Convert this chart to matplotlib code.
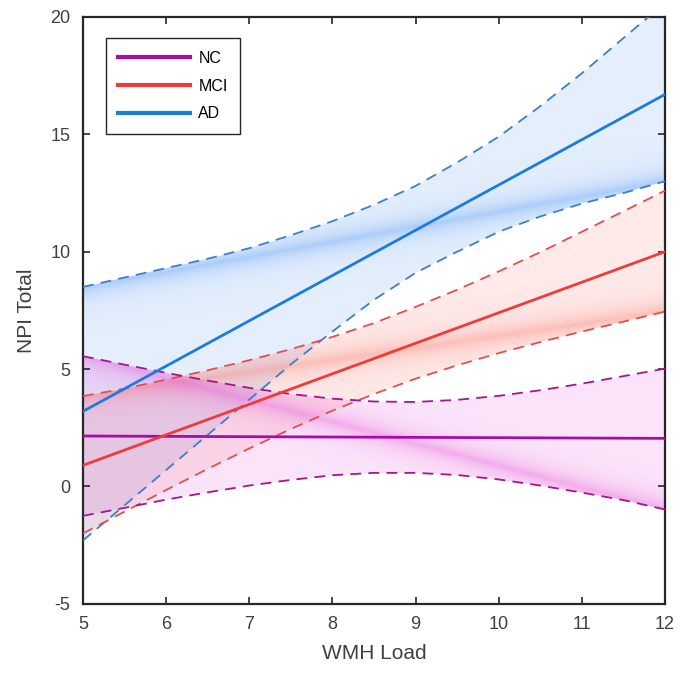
#!/usr/bin/env python
# -*- coding: utf-8 -*-

# NPI total vs WMH load, linear fit with 95% bounds per group

#-----------------------------------------------------------------------------------------
#                                        MODULES
#-----------------------------------------------------------------------------------------
import numpy as np
from matplotlib import pyplot as plt
from matplotlib.patches import Polygon

plt.rcParams['font.family'] = ['Liberation Sans', 'DejaVu Sans']
plt.rcParams['axes.unicode_minus'] = False

#-----------------------------------------------------------------------------------------
#                                          DATA
#-----------------------------------------------------------------------------------------
groups = ['NC', 'MCI', 'AD']

wmh = [5.0, 5.5, 6.0, 6.5, 7.0, 7.5, 8.0, 8.5, 9.0, 9.5, 10.0, 10.5, 11.0, 11.5, 12.0]

# fitted line end points (x = 5 and x = 12)
fit_ends = [5.0, 12.0]
nc_fit = [2.15, 2.05]
mci_fit = [0.9, 10.0]
ad_fit = [3.2, 16.7]

# dashed confidence bounds
nc_upper = [5.55, 5.19, 4.84, 4.51, 4.20, 3.94, 3.74, 3.62, 3.60, 3.69, 3.86, 4.10, 4.38, 4.70, 5.02]
nc_lower = [-1.25, -0.91, -0.56, -0.25, 0.04, 0.28, 0.48, 0.58, 0.58, 0.49, 0.30, 0.04, -0.26, -0.58, -0.98]
mci_upper = [3.85, 4.17, 4.55, 4.95, 5.38, 5.85, 6.37, 6.96, 7.65, 8.38, 9.16, 9.98, 10.85, 11.72, 12.6]
mci_lower = [-2.0, -1.07, -0.15, 0.75, 1.62, 2.45, 3.23, 3.94, 4.59, 5.16, 5.68, 6.15, 6.6, 7.02, 7.45]
ad_upper = [8.5, 8.9, 9.3, 9.7, 10.15, 10.7, 11.3, 12.0, 12.8, 13.8, 14.9, 16.2, 17.6, 19.1, 20.6]
ad_lower = [-2.3, -0.8, 0.7, 2.2, 3.7, 5.2, 6.6, 7.95, 9.1, 10.0, 10.85, 11.5, 12.05, 12.5, 13.0]

xticks = [5, 6, 7, 8, 9, 10, 11, 12]
yticks = [-5, 0, 5, 10, 15, 20]

#-----------------------------------------------------------------------------------------
#                                         STYLE
#-----------------------------------------------------------------------------------------
line_col = {'NC': '#A80CA8', 'MCI': '#EE3B3B', 'AD': '#1C7CDC'}
dash_col = {'NC': '#A3168F', 'MCI': '#E0504E', 'AD': '#3A80CC'}
fill_col = {'NC': (0.90, 0.30, 0.85), 'MCI': (0.98, 0.45, 0.40), 'AD': (0.30, 0.58, 0.95)}


#-----------------------------------------------------------------------------------------
#                                  FUNCTION DEFINITION
#-----------------------------------------------------------------------------------------
def shaded_band(ax, x, up, lo, rgb, base=0.15, peak=0.32, width=0.45):
    """Fill between bounds, darker along the diagonal upper(x0) -> lower(x1)"""
    x = np.asarray(x); up = np.asarray(up); lo = np.asarray(lo)
    verts = np.vstack([np.column_stack([x, up]), np.column_stack([x[::-1], lo[::-1]])])
    poly = Polygon(verts, closed=True, facecolor='none', edgecolor='none')
    ax.add_patch(poly)

    gx = np.linspace(x[0], x[-1], 500)
    gy = np.linspace(-6, 22, 900)
    X, Y = np.meshgrid(gx, gy)
    crease = up[0] + (lo[-1] - up[0]) * (X - x[0]) / (x[-1] - x[0])
    alpha = base + peak * np.exp(-np.abs(Y - crease) / width)
    rgba = np.zeros(X.shape + (4,))
    rgba[..., 0], rgba[..., 1], rgba[..., 2] = rgb
    rgba[..., 3] = np.clip(alpha, 0, 1)
    im = ax.imshow(rgba, extent=[gx[0], gx[-1], gy[0], gy[-1]], origin='lower',
                   aspect='auto', interpolation='bilinear', zorder=1)
    im.set_clip_path(poly)


#-----------------------------------------------------------------------------------------
#                                     MAIN FUNCTION
#-----------------------------------------------------------------------------------------
def main():
    fig = plt.figure(figsize=(6.8, 6.77), dpi=100)
    ax = fig.add_axes([0.122, 0.108, 0.856, 0.867])

    bands = {'NC': (nc_upper, nc_lower, nc_fit),
             'MCI': (mci_upper, mci_lower, mci_fit),
             'AD': (ad_upper, ad_lower, ad_fit)}

    for g in ['AD', 'MCI', 'NC']:
        up, lo, _ = bands[g]
        shaded_band(ax, wmh, up, lo, fill_col[g])

    for g in ['AD', 'MCI', 'NC']:
        up, lo, _ = bands[g]
        ax.plot(wmh, up, color=dash_col[g], lw=1.3, dashes=(6, 4), zorder=3)
        ax.plot(wmh, lo, color=dash_col[g], lw=1.3, dashes=(6, 4), zorder=3)

    handles = []
    for g in groups:
        h, = ax.plot(fit_ends, bands[g][2], color=line_col[g], lw=2.0, zorder=4, label=g)
        handles.append(h)

    ax.set_xlim(5, 12)
    ax.set_ylim(-5, 20)
    ax.set_xticks(xticks)
    ax.set_yticks(yticks)
    ax.tick_params(direction='in', length=5, width=1.2, top=True, right=True,
                   labelsize=13, pad=9, colors='#262626')
    ax.tick_params(labelcolor='#404040')
    for s in ax.spines.values():
        s.set_linewidth(1.6)
        s.set_color('#262626')

    ax.set_xlabel('WMH Load', fontsize=15, color='#404040', labelpad=8)
    ax.set_ylabel('NPI Total', fontsize=15, color='#404040', labelpad=10)

    leg = ax.legend(handles=handles, loc='upper left', bbox_to_anchor=(0.039, 0.964),
                    borderaxespad=0, fontsize=11.5, handlelength=4.5, handletextpad=0.5,
                    borderpad=0.8, labelspacing=0.8, fancybox=False, framealpha=1)
    leg.get_frame().set_edgecolor('#262626')
    leg.get_frame().set_linewidth(1.0)
    for line in leg.get_lines():
        line.set_linewidth(3.0)

    fig.savefig('out.png', dpi=100)


#-----------------------------------------------------------------------------------------
#                                      RUNNING TEST
#-----------------------------------------------------------------------------------------
if __name__ == '__main__':
    main()
